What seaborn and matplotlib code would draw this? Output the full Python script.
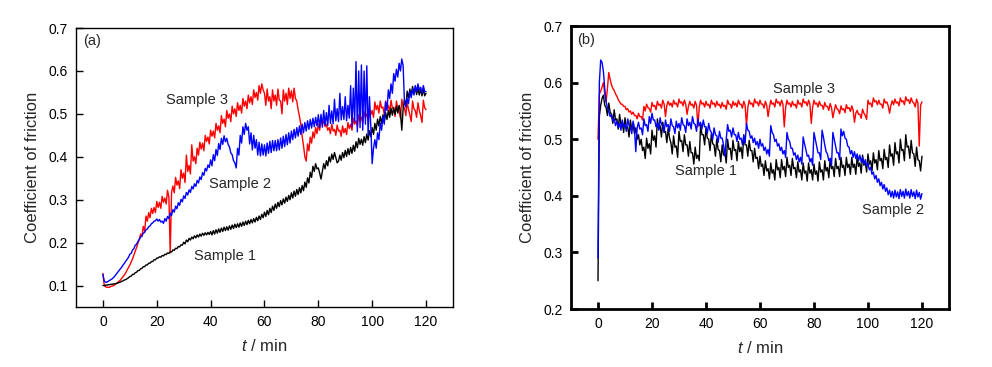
import numpy as np
import pandas as pd
import matplotlib
matplotlib.use("Agg")
import matplotlib.pyplot as plt
import seaborn as sns

# time grid, one reading every half minute
t_min = np.arange(0, 120.5, 0.5)

# panel (a)
a_sample1 = [
    0.100, 0.100, 0.101, 0.101, 0.102, 0.102, 0.103, 0.103, 0.104, 0.104, 0.105, 0.106, 0.107, 0.108, 0.110, 0.111, 0.113, 0.114, 0.116, 0.118,
    0.121, 0.122, 0.126, 0.126, 0.130, 0.131, 0.135, 0.135, 0.139, 0.140, 0.144, 0.144, 0.148, 0.148, 0.152, 0.152, 0.156, 0.156, 0.160, 0.160,
    0.164, 0.164, 0.167, 0.166, 0.170, 0.169, 0.173, 0.172, 0.176, 0.175, 0.179, 0.178, 0.183, 0.182, 0.187, 0.186, 0.191, 0.190, 0.195, 0.194,
    0.201, 0.197, 0.206, 0.202, 0.210, 0.206, 0.213, 0.209, 0.216, 0.211, 0.218, 0.213, 0.220, 0.215, 0.222, 0.217, 0.223, 0.218, 0.224, 0.219,
    0.226, 0.218, 0.228, 0.220, 0.230, 0.222, 0.232, 0.224, 0.234, 0.226, 0.236, 0.228, 0.237, 0.229, 0.239, 0.231, 0.241, 0.233, 0.243, 0.235,
    0.244, 0.236, 0.246, 0.238, 0.248, 0.240, 0.250, 0.242, 0.252, 0.244, 0.254, 0.246, 0.256, 0.248, 0.259, 0.251, 0.262, 0.254, 0.266, 0.258,
    0.271, 0.261, 0.275, 0.265, 0.280, 0.270, 0.285, 0.275, 0.290, 0.280, 0.294, 0.284, 0.298, 0.288, 0.302, 0.292, 0.306, 0.296, 0.310, 0.300,
    0.316, 0.304, 0.320, 0.308, 0.324, 0.312, 0.328, 0.316, 0.333, 0.321, 0.341, 0.329, 0.351, 0.339, 0.364, 0.352, 0.378, 0.366, 0.384, 0.372,
    0.374, 0.362, 0.348, 0.366, 0.384, 0.372, 0.391, 0.379, 0.400, 0.388, 0.406, 0.394, 0.410, 0.398, 0.386, 0.390, 0.404, 0.392, 0.410, 0.398,
    0.415, 0.401, 0.419, 0.405, 0.422, 0.408, 0.427, 0.413, 0.435, 0.421, 0.443, 0.429, 0.441, 0.427, 0.447, 0.433, 0.453, 0.439, 0.461, 0.447,
    0.468, 0.452, 0.478, 0.462, 0.488, 0.472, 0.494, 0.478, 0.498, 0.482, 0.503, 0.487, 0.508, 0.492, 0.513, 0.497, 0.515, 0.499, 0.518, 0.502,
    0.520, 0.504, 0.462, 0.512, 0.533, 0.517, 0.553, 0.537, 0.558, 0.542, 0.564, 0.548, 0.561, 0.545, 0.560, 0.544, 0.558, 0.542, 0.558, 0.542,
    0.548]
a_sample2 = [
    0.126, 0.110, 0.108, 0.108, 0.110, 0.112, 0.114, 0.116, 0.119, 0.123, 0.127, 0.131, 0.135, 0.139, 0.143, 0.148, 0.152, 0.157, 0.161, 0.166,
    0.173, 0.175, 0.183, 0.186, 0.194, 0.196, 0.203, 0.207, 0.213, 0.216, 0.222, 0.224, 0.230, 0.232, 0.237, 0.239, 0.244, 0.246, 0.250, 0.251,
    0.255, 0.250, 0.254, 0.248, 0.250, 0.245, 0.256, 0.250, 0.261, 0.256, 0.269, 0.263, 0.277, 0.271, 0.285, 0.279, 0.293, 0.287, 0.301, 0.295,
    0.309, 0.303, 0.317, 0.311, 0.323, 0.317, 0.331, 0.325, 0.337, 0.331, 0.345, 0.339, 0.353, 0.347, 0.363, 0.357, 0.373, 0.367, 0.381, 0.375,
    0.393, 0.379, 0.405, 0.391, 0.417, 0.403, 0.431, 0.417, 0.443, 0.429, 0.449, 0.435, 0.443, 0.429, 0.423, 0.409, 0.405, 0.391, 0.386, 0.374,
    0.420, 0.404, 0.450, 0.432, 0.470, 0.452, 0.478, 0.462, 0.470, 0.430, 0.456, 0.416, 0.450, 0.420, 0.440, 0.404, 0.434, 0.402, 0.430, 0.404,
    0.428, 0.402, 0.432, 0.408, 0.436, 0.410, 0.438, 0.414, 0.438, 0.414, 0.440, 0.416, 0.444, 0.420, 0.448, 0.424, 0.452, 0.428, 0.456, 0.432,
    0.460, 0.440, 0.464, 0.444, 0.468, 0.448, 0.472, 0.452, 0.476, 0.456, 0.480, 0.460, 0.484, 0.464, 0.487, 0.467, 0.490, 0.470, 0.492, 0.472,
    0.498, 0.468, 0.499, 0.469, 0.508, 0.474, 0.503, 0.473, 0.520, 0.478, 0.507, 0.477, 0.534, 0.484, 0.512, 0.482, 0.548, 0.486, 0.517, 0.487,
    0.540, 0.484, 0.520, 0.490, 0.566, 0.470, 0.560, 0.482, 0.622, 0.458, 0.600, 0.468, 0.614, 0.462, 0.600, 0.476, 0.612, 0.450, 0.540, 0.470,
    0.384, 0.420, 0.440, 0.420, 0.456, 0.440, 0.478, 0.462, 0.494, 0.476, 0.528, 0.508, 0.556, 0.536, 0.570, 0.548, 0.594, 0.576, 0.604, 0.586,
    0.618, 0.600, 0.628, 0.612, 0.526, 0.516, 0.536, 0.524, 0.552, 0.538, 0.558, 0.544, 0.566, 0.552, 0.570, 0.556, 0.562, 0.548, 0.566, 0.552,
    0.552]
a_sample3 = [
    0.128, 0.100, 0.097, 0.096, 0.096, 0.096, 0.098, 0.099, 0.100, 0.102, 0.104, 0.107, 0.110, 0.113, 0.117, 0.121, 0.125, 0.130, 0.136, 0.142,
    0.148, 0.155, 0.162, 0.171, 0.180, 0.189, 0.198, 0.208, 0.220, 0.214, 0.238, 0.226, 0.262, 0.250, 0.270, 0.258, 0.280, 0.268, 0.282, 0.270,
    0.296, 0.282, 0.294, 0.280, 0.308, 0.294, 0.304, 0.290, 0.322, 0.306, 0.176, 0.318, 0.332, 0.316, 0.352, 0.334, 0.344, 0.326, 0.370, 0.350,
    0.362, 0.340, 0.404, 0.366, 0.380, 0.360, 0.428, 0.390, 0.400, 0.384, 0.420, 0.404, 0.434, 0.418, 0.432, 0.414, 0.450, 0.436, 0.446, 0.430,
    0.462, 0.448, 0.460, 0.444, 0.478, 0.462, 0.472, 0.456, 0.496, 0.478, 0.488, 0.470, 0.508, 0.490, 0.500, 0.482, 0.518, 0.500, 0.512, 0.494,
    0.526, 0.508, 0.520, 0.502, 0.536, 0.518, 0.530, 0.512, 0.544, 0.526, 0.540, 0.522, 0.556, 0.538, 0.550, 0.532, 0.566, 0.548, 0.570, 0.556,
    0.548, 0.520, 0.558, 0.530, 0.540, 0.512, 0.556, 0.530, 0.544, 0.520, 0.558, 0.532, 0.530, 0.500, 0.556, 0.530, 0.548, 0.522, 0.560, 0.536,
    0.554, 0.528, 0.560, 0.536, 0.530, 0.510, 0.494, 0.476, 0.448, 0.426, 0.400, 0.390, 0.430, 0.414, 0.446, 0.432, 0.458, 0.444, 0.468, 0.454,
    0.476, 0.462, 0.492, 0.476, 0.484, 0.470, 0.476, 0.462, 0.468, 0.454, 0.476, 0.460, 0.464, 0.450, 0.474, 0.460, 0.462, 0.448, 0.472, 0.456,
    0.466, 0.452, 0.480, 0.466, 0.476, 0.462, 0.490, 0.476, 0.484, 0.470, 0.498, 0.484, 0.492, 0.478, 0.506, 0.492, 0.500, 0.486, 0.512, 0.498,
    0.508, 0.492, 0.528, 0.510, 0.520, 0.502, 0.530, 0.514, 0.516, 0.498, 0.530, 0.512, 0.520, 0.502, 0.532, 0.514, 0.510, 0.494, 0.530, 0.512,
    0.506, 0.490, 0.534, 0.516, 0.514, 0.496, 0.528, 0.510, 0.498, 0.482, 0.530, 0.512, 0.508, 0.492, 0.526, 0.508, 0.496, 0.480, 0.532, 0.514,
    0.510]

# panel (b)
b_sample1 = [
    0.250, 0.540, 0.560, 0.572, 0.578, 0.560, 0.556, 0.542, 0.564, 0.548, 0.544, 0.528, 0.552, 0.534, 0.536, 0.518, 0.544, 0.526, 0.530, 0.512,
    0.538, 0.520, 0.522, 0.504, 0.534, 0.516, 0.528, 0.510, 0.520, 0.500, 0.508, 0.490, 0.500, 0.480, 0.486, 0.466, 0.502, 0.484, 0.492, 0.474,
    0.516, 0.498, 0.506, 0.486, 0.536, 0.518, 0.524, 0.504, 0.530, 0.512, 0.514, 0.494, 0.520, 0.502, 0.494, 0.474, 0.506, 0.486, 0.488, 0.468,
    0.514, 0.496, 0.498, 0.478, 0.508, 0.490, 0.490, 0.470, 0.496, 0.476, 0.476, 0.456, 0.486, 0.466, 0.472, 0.462, 0.526, 0.508, 0.508, 0.490,
    0.520, 0.502, 0.500, 0.480, 0.510, 0.492, 0.490, 0.470, 0.500, 0.482, 0.480, 0.460, 0.490, 0.472, 0.478, 0.458, 0.500, 0.482, 0.484, 0.464,
    0.498, 0.480, 0.482, 0.462, 0.496, 0.478, 0.486, 0.466, 0.508, 0.490, 0.490, 0.470, 0.498, 0.480, 0.480, 0.460, 0.484, 0.466, 0.468, 0.448,
    0.470, 0.452, 0.456, 0.436, 0.462, 0.444, 0.448, 0.430, 0.458, 0.440, 0.446, 0.428, 0.464, 0.446, 0.450, 0.432, 0.464, 0.446, 0.452, 0.434,
    0.468, 0.450, 0.454, 0.436, 0.466, 0.448, 0.450, 0.432, 0.460, 0.442, 0.446, 0.428, 0.458, 0.440, 0.444, 0.426, 0.458, 0.440, 0.446, 0.428,
    0.456, 0.438, 0.444, 0.426, 0.460, 0.442, 0.446, 0.428, 0.462, 0.444, 0.450, 0.432, 0.466, 0.448, 0.452, 0.434, 0.466, 0.448, 0.452, 0.434,
    0.468, 0.450, 0.454, 0.436, 0.468, 0.450, 0.456, 0.438, 0.468, 0.450, 0.456, 0.438, 0.470, 0.452, 0.458, 0.440, 0.472, 0.454, 0.460, 0.442,
    0.474, 0.456, 0.462, 0.444, 0.476, 0.458, 0.464, 0.446, 0.480, 0.462, 0.466, 0.448, 0.482, 0.464, 0.468, 0.450, 0.490, 0.470, 0.474, 0.454,
    0.494, 0.474, 0.478, 0.458, 0.500, 0.480, 0.482, 0.462, 0.508, 0.486, 0.488, 0.466, 0.498, 0.476, 0.474, 0.452, 0.486, 0.464, 0.462, 0.444,
    0.470]
b_sample2 = [
    0.290, 0.600, 0.640, 0.636, 0.620, 0.590, 0.566, 0.556, 0.550, 0.540, 0.544, 0.532, 0.536, 0.524, 0.532, 0.520, 0.528, 0.516, 0.534, 0.522,
    0.526, 0.514, 0.536, 0.524, 0.522, 0.510, 0.532, 0.520, 0.478, 0.520, 0.530, 0.518, 0.520, 0.508, 0.536, 0.524, 0.526, 0.514, 0.540, 0.528,
    0.546, 0.534, 0.534, 0.522, 0.528, 0.516, 0.538, 0.526, 0.524, 0.512, 0.534, 0.522, 0.526, 0.514, 0.536, 0.524, 0.522, 0.510, 0.532, 0.520,
    0.528, 0.516, 0.538, 0.526, 0.524, 0.512, 0.536, 0.524, 0.530, 0.518, 0.540, 0.528, 0.526, 0.514, 0.536, 0.524, 0.530, 0.518, 0.534, 0.522,
    0.522, 0.510, 0.528, 0.516, 0.512, 0.500, 0.520, 0.508, 0.506, 0.494, 0.514, 0.502, 0.502, 0.490, 0.470, 0.500, 0.526, 0.514, 0.516, 0.504,
    0.520, 0.508, 0.508, 0.496, 0.512, 0.500, 0.502, 0.490, 0.506, 0.494, 0.528, 0.516, 0.514, 0.502, 0.506, 0.494, 0.502, 0.490, 0.496, 0.484,
    0.500, 0.488, 0.492, 0.480, 0.486, 0.474, 0.482, 0.470, 0.524, 0.512, 0.508, 0.496, 0.500, 0.488, 0.492, 0.480, 0.486, 0.474, 0.480, 0.468,
    0.512, 0.500, 0.496, 0.484, 0.484, 0.472, 0.476, 0.464, 0.472, 0.460, 0.468, 0.456, 0.504, 0.492, 0.482, 0.470, 0.472, 0.460, 0.466, 0.454,
    0.512, 0.500, 0.488, 0.476, 0.476, 0.464, 0.516, 0.504, 0.490, 0.478, 0.474, 0.462, 0.466, 0.454, 0.512, 0.500, 0.488, 0.476, 0.476, 0.464,
    0.518, 0.506, 0.514, 0.502, 0.500, 0.488, 0.486, 0.474, 0.480, 0.468, 0.478, 0.466, 0.474, 0.462, 0.472, 0.460, 0.468, 0.456, 0.464, 0.452,
    0.458, 0.446, 0.450, 0.438, 0.442, 0.430, 0.436, 0.424, 0.430, 0.418, 0.424, 0.412, 0.420, 0.408, 0.414, 0.402, 0.410, 0.398, 0.408, 0.396,
    0.410, 0.398, 0.407, 0.395, 0.411, 0.399, 0.408, 0.396, 0.412, 0.400, 0.408, 0.396, 0.411, 0.399, 0.407, 0.395, 0.410, 0.398, 0.406, 0.394,
    0.404]
b_sample3 = [
    0.500, 0.580, 0.585, 0.592, 0.600, 0.580, 0.566, 0.590, 0.618, 0.606, 0.596, 0.590, 0.586, 0.580, 0.576, 0.570, 0.566, 0.562, 0.562, 0.558,
    0.558, 0.552, 0.554, 0.548, 0.550, 0.544, 0.548, 0.542, 0.542, 0.536, 0.546, 0.540, 0.540, 0.534, 0.558, 0.550, 0.562, 0.556, 0.554, 0.548,
    0.565, 0.558, 0.560, 0.552, 0.567, 0.560, 0.562, 0.555, 0.569, 0.562, 0.540, 0.560, 0.567, 0.560, 0.564, 0.557, 0.569, 0.562, 0.564, 0.557,
    0.571, 0.564, 0.566, 0.559, 0.569, 0.562, 0.544, 0.558, 0.567, 0.560, 0.562, 0.555, 0.567, 0.560, 0.522, 0.556, 0.569, 0.562, 0.564, 0.557,
    0.567, 0.560, 0.562, 0.555, 0.569, 0.562, 0.564, 0.557, 0.567, 0.560, 0.562, 0.555, 0.565, 0.558, 0.560, 0.553, 0.569, 0.562, 0.562, 0.555,
    0.567, 0.560, 0.564, 0.557, 0.569, 0.562, 0.562, 0.555, 0.567, 0.560, 0.524, 0.556, 0.569, 0.562, 0.564, 0.557, 0.571, 0.564, 0.566, 0.559,
    0.569, 0.562, 0.562, 0.555, 0.567, 0.560, 0.540, 0.556, 0.569, 0.562, 0.564, 0.557, 0.571, 0.564, 0.566, 0.559, 0.569, 0.562, 0.522, 0.556,
    0.569, 0.562, 0.564, 0.557, 0.567, 0.560, 0.562, 0.555, 0.569, 0.562, 0.564, 0.557, 0.571, 0.564, 0.566, 0.559, 0.569, 0.562, 0.528, 0.556,
    0.569, 0.562, 0.564, 0.557, 0.567, 0.560, 0.560, 0.553, 0.565, 0.558, 0.558, 0.551, 0.563, 0.556, 0.538, 0.550, 0.561, 0.554, 0.552, 0.545,
    0.559, 0.552, 0.554, 0.547, 0.561, 0.554, 0.556, 0.549, 0.559, 0.552, 0.530, 0.546, 0.551, 0.544, 0.544, 0.537, 0.553, 0.546, 0.542, 0.535,
    0.569, 0.562, 0.564, 0.557, 0.573, 0.566, 0.568, 0.561, 0.569, 0.562, 0.562, 0.555, 0.571, 0.564, 0.566, 0.559, 0.546, 0.560, 0.568, 0.561,
    0.571, 0.564, 0.566, 0.559, 0.573, 0.566, 0.568, 0.561, 0.575, 0.568, 0.570, 0.563, 0.573, 0.566, 0.564, 0.557, 0.571, 0.564, 0.488, 0.560,
    0.566]

sample_names = ["Sample 3", "Sample 1", "Sample 2"]   # drawing order
colors = {"Sample 1": "black", "Sample 2": "#0000ff", "Sample 3": "#ff0000"}


def to_frame(s1, s2, s3):
    parts = []
    for name, vals in zip(["Sample 1", "Sample 2", "Sample 3"], [s1, s2, s3]):
        assert len(vals) == len(t_min), (name, len(vals))
        parts.append(pd.DataFrame({"t": t_min, "cof": vals, "sample": name}))
    return pd.concat(parts, ignore_index=True)


df_a = to_frame(a_sample1, a_sample2, a_sample3)
df_b = to_frame(b_sample1, b_sample2, b_sample3)

sns.set_style("ticks")
plt.rcParams["font.family"] = ["Liberation Sans", "DejaVu Sans"]
plt.rcParams["mathtext.fontset"] = "custom"
plt.rcParams["mathtext.it"] = "Liberation Sans:italic"
plt.rcParams["mathtext.rm"] = "Liberation Sans"

fig = plt.figure(figsize=(9.92, 3.67), dpi=100)
ax_a = fig.add_axes([0.0766, 0.1635, 0.380, 0.760])
ax_b = fig.add_axes([0.5756, 0.158, 0.381, 0.771])

for ax, df in [(ax_a, df_a), (ax_b, df_b)]:
    sns.lineplot(data=df, x="t", y="cof", hue="sample", hue_order=sample_names,
                 palette=colors, estimator=None, legend=False, lw=1.0, ax=ax)

panel_setup = [
    (ax_a, 1.0, (0.05, 0.7), [0.1, 0.2, 0.3, 0.4, 0.5, 0.6, 0.7]),
    (ax_b, 2.0, (0.2, 0.7), [0.2, 0.3, 0.4, 0.5, 0.6, 0.7]),
]
for ax, frame_lw, ylim, yticks in panel_setup:
    ax.set_xlim(-10, 130)
    ax.set_ylim(*ylim)
    ax.set_xticks(range(0, 121, 20))
    ax.set_yticks(yticks)
    ax.set_yticklabels([f"{v:.1f}" for v in yticks])
    for sp in ax.spines.values():
        sp.set_linewidth(frame_lw)
        sp.set_color("black")
    ax.set_xlabel(r"$\it{t}$ / min", fontsize=12, labelpad=6)
    ax.set_ylabel("Coefficient of friction", fontsize=12, labelpad=6)
    ax.tick_params(which="major", direction="in", length=5, width=frame_lw,
                   bottom=True, left=True, labelsize=10, pad=6,
                   color="black", labelcolor="black")

ax_a.text(0.018, 0.953, "(a)", transform=ax_a.transAxes, fontsize=10.5, va="center")
ax_b.text(0.016, 0.95, "(b)", transform=ax_b.transAxes, fontsize=10.5, va="center")

ax_a.text(34.8, 0.532, "Sample 3", fontsize=10.5, ha="center", va="center")
ax_a.text(50.9, 0.336, "Sample 2", fontsize=10.5, ha="center", va="center")
ax_a.text(45.3, 0.170, "Sample 1", fontsize=10.5, ha="center", va="center")

ax_b.text(76.4, 0.588, "Sample 3", fontsize=10.5, ha="center", va="center")
ax_b.text(39.9, 0.443, "Sample 1", fontsize=10.5, ha="center", va="center")
ax_b.text(109.4, 0.375, "Sample 2", fontsize=10.5, ha="center", va="center")

fig.savefig("out.png", dpi=100, facecolor="white")

img = plt.imread("out.png")
if img[300:307, 652, 0].min() > 0.5:
    raise SystemExit("tick missing: " + str(img[295:312, 652, 0].round(2).tolist()))
